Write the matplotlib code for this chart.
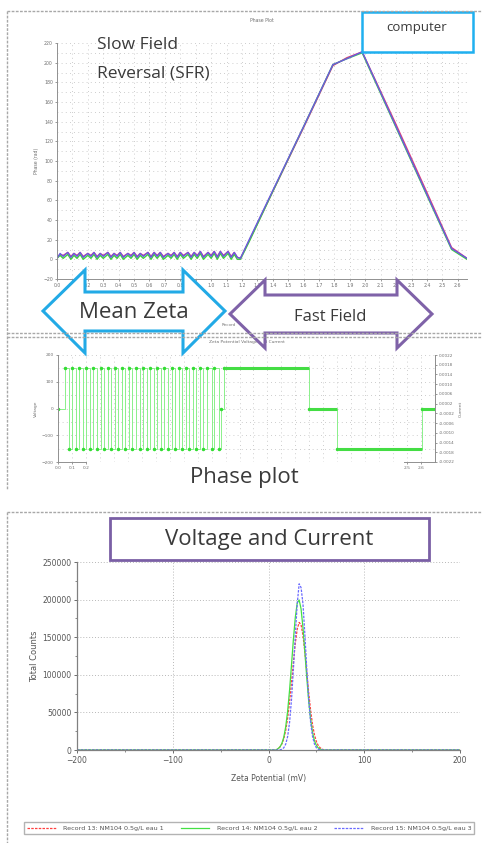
import matplotlib
matplotlib.use("Agg")
import matplotlib.pyplot as plt
from matplotlib.patches import Polygon, Rectangle
import numpy as np

# ---------------- data ----------------
phase_time = [0.00, 0.02, 0.04, 0.07, 0.09, 0.11, 0.13, 0.15, 0.17, 0.20,
              0.22, 0.24, 0.26, 0.28, 0.30, 0.33, 0.35, 0.37, 0.39, 0.41,
              0.43, 0.46, 0.48, 0.50, 0.52, 0.54, 0.56, 0.59, 0.61, 0.63,
              0.65, 0.67, 0.69, 0.72, 0.74, 0.76, 0.78, 0.80, 0.82, 0.85,
              0.87, 0.89, 0.91, 0.93, 0.95, 0.98, 1.00, 1.02, 1.04, 1.06,
              1.08, 1.11, 1.13, 1.15, 1.17,
              1.19, 1.25, 1.40, 1.60, 1.79, 1.88, 1.98, 2.20, 2.40, 2.56, 2.66]
phase_blue = [1, 6, 3, 7, 2, 6, 3, 7, 2, 6,
              3, 7, 2, 6, 3, 7, 2, 6, 3, 7,
              2, 6, 3, 7, 2, 6, 3, 7, 2, 7,
              3, 7, 2, 6, 3, 7, 2, 7, 3, 7,
              2, 7, 3, 8, 2, 7, 3, 8, 2, 8,
              3, 8, 2, 7, 2,
              1, 21, 70, 135, 198, 204, 211, 135, 66, 11, 1]
phase_red = [2, 5, 4, 7, 3, 6, 4, 7, 3, 6,
             4, 7, 3, 6, 4, 7, 3, 6, 4, 7,
             3, 6, 4, 7, 3, 6, 4, 7, 3, 7,
             4, 7, 3, 6, 4, 7, 3, 7, 4, 7,
             3, 7, 4, 8, 3, 7, 4, 8, 3, 8,
             4, 8, 3, 7, 2,
             1, 20, 69, 134, 197, 205, 211, 137, 68, 12, 1]
phase_green = [1, 4, 1, 5, 0, 4, 1, 5, 0, 4,
               1, 5, 0, 4, 1, 5, 0, 4, 1, 5,
               0, 4, 1, 5, 0, 4, 1, 5, 0, 5,
               1, 5, 0, 4, 1, 5, 0, 5, 1, 5,
               0, 5, 1, 6, 0, 5, 1, 6, 0, 6,
               1, 6, 0, 5, 0,
               0, 19, 69, 135, 198, 204, 210, 134, 65, 10, 0]

volt_time = [0.00, 0.05, 0.08, 0.10, 0.13, 0.15, 0.18, 0.20, 0.23, 0.25, 0.28,
             0.31, 0.33, 0.36, 0.38, 0.41, 0.43, 0.46, 0.48, 0.51, 0.53,
             0.56, 0.59, 0.61, 0.64, 0.66, 0.69, 0.71, 0.74, 0.76, 0.79,
             0.82, 0.84, 0.87, 0.89, 0.92, 0.94, 0.97, 0.99, 1.02, 1.04,
             1.07, 1.10, 1.12, 1.15, 1.17, 1.19, 1.80, 2.00, 2.61, 2.70]
volt_val = [0,
            150, -150, 150, -150, 150, -150, 150, -150, 150, -150,
            150, -150, 150, -150, 150, -150, 150, -150, 150, -150,
            150, -150, 150, -150, 150, -150, 150, -150, 150, -150,
            150, -150, 150, -150, 150, -150, 150, -150, 150, -150,
            150, -150, 150, -150,
            0, 150, 0, -150, 0, 0]

zeta_mv = [-200, 8, 10, 12, 14, 16, 18, 20, 22, 24, 26, 28, 30, 32, 34,
           36, 38, 40, 42, 44, 46, 48, 50, 52, 54, 56, 58, 200]
counts_rec13 = [0, 0, 1900, 4100, 8100, 15100, 26200, 42400, 63800, 89500, 116800,
                142000, 160800, 169600, 166600, 152500, 129900, 103100, 76200,
                52500, 33600, 20100, 11200, 5800, 2800, 1300, 0, 0]
counts_rec14 = [0, 0, 1800, 4100, 8800, 17200, 31100, 51800, 79600, 112700, 146900,
                176500, 195500, 199500, 187700, 162700, 129900, 95700, 64900,
                40600, 23400, 12400, 6100, 2700, 1100, 400, 0, 0]
counts_rec15 = [0, 0, 100, 300, 1000, 3000, 7900, 18000, 36700, 66600, 107200,
                153100, 194300, 221000, 216000, 194300, 153100, 107200, 66600,
                36700, 18000, 7900, 3000, 1000, 300, 100, 0, 0]
record_labels = ["Record 13: NM104 0.5g/L eau 1",
                 "Record 14: NM104 0.5g/L eau 2",
                 "Record 15: NM104 0.5g/L eau 3"]

W, H = 482, 843
fig = plt.figure(figsize=(W / 100, H / 100), dpi=100)
fig.patch.set_facecolor("white")


def rect(x0, y0, x1, y1):
    return [x0 / W, 1 - y1 / H, (x1 - x0) / W, (y1 - y0) / H]


tick_col = "#707070"
grid_kw = dict(color="#bdbdbd", linestyle=(0, (1, 4)), linewidth=0.6)

# ---------------- top: phase plot ----------------
ax1 = fig.add_axes(rect(57, 43, 467, 279))
ax1.plot(phase_time, phase_red, color="#e0407a", lw=1.0)
ax1.plot(phase_time, phase_green, color="#3fcf3f", lw=1.0)
ax1.plot(phase_time, phase_blue, color="#6a5ae0", lw=1.0)
ax1.set_xlim(0, 2.66)
ax1.set_ylim(-20, 220)
ax1.set_xticks(np.round(np.arange(0, 2.65, 0.1), 1))
ax1.set_xticklabels([f"{v:.1f}" for v in np.arange(0, 2.65, 0.1)])
ax1.set_yticks(np.arange(-20, 221, 20))
ax1.set_yticks(np.arange(-10, 221, 20), minor=True)
ax1.tick_params(labelsize=3.3, colors=tick_col, length=1.5, width=0.5, pad=1.5)
ax1.tick_params(which="minor", length=0)
ax1.grid(True, which="both", **grid_kw)
for s in ("top", "right"):
    ax1.spines[s].set_visible(False)
for s in ("left", "bottom"):
    ax1.spines[s].set_color("#909090")
    ax1.spines[s].set_linewidth(0.7)
ax1.set_ylabel("Phase (rad)", fontsize=3.3, color=tick_col, labelpad=3)
ax1.set_title("Phase Plot", fontsize=3.3, color=tick_col, pad=15)

# ---------------- middle: voltage / current ----------------
ax2 = fig.add_axes(rect(58, 355, 435, 462))
ax2.plot(volt_time, volt_val, drawstyle="steps-post", color="#8af08a", lw=0.7,
         marker=".", ms=3, mfc="#33dd33", mec="#33dd33")
n = len(volt_time)
for i in range(n - 5, n - 1):
    ax2.hlines(volt_val[i], volt_time[i], volt_time[i + 1], color="#44dd44", lw=2.2)
ax2.set_xlim(0, 2.70)
ax2.set_ylim(-200, 200)
ax2.set_yticks([-200, -100, 0, 100, 200])
ax2.set_xticks([0.0, 0.1, 0.2, 2.5, 2.6])
ax2.set_xticklabels(["0.0", "0.1", "0.2", "2.5", "2.6"])
ax2.set_xticks(np.arange(0.1, 2.7, 0.1), minor=True)
ax2.set_yticks(np.arange(-150, 200, 50), minor=True)
ax2.tick_params(labelsize=3.2, colors=tick_col, length=1.5, width=0.5, pad=1.5)
ax2.tick_params(which="minor", length=0)
ax2.grid(True, which="both", **grid_kw)
ax2.spines["top"].set_visible(False)
ax2.spines["bottom"].set_bounds(0, 0.2)
for s in ("left", "bottom", "right"):
    ax2.spines[s].set_color("#909090")
    ax2.spines[s].set_linewidth(0.7)
ax2.axhline(-200, xmin=2.48 / 2.70, xmax=1.0, color="#909090", lw=0.7, clip_on=False)
ax2.set_ylabel("Voltage", fontsize=3.2, color=tick_col, labelpad=3)
ax2.set_title("Zeta Potential Voltage and Current", fontsize=3.2, color=tick_col,
              pad=9)
ax2r = ax2.twinx()
ax2r.set_ylim(-0.0022, 0.0022)
cur_ticks = [-0.0022, -0.0018, -0.0014, -0.0010, -0.0006, -0.0002,
             0.0002, 0.0006, 0.0010, 0.0014, 0.0018, 0.0022]
ax2r.set_yticks(cur_ticks)
ax2r.set_yticklabels([f"{v:.4f}" for v in cur_ticks])
ax2r.tick_params(labelsize=3.0, colors=tick_col, length=1.5, width=0.5, pad=1.5)
for s in ("top", "left", "bottom"):
    ax2r.spines[s].set_visible(False)
ax2r.spines["right"].set_color("#909090")
ax2r.spines["right"].set_linewidth(0.7)
ax2r.set_ylabel("Current", fontsize=3.2, color=tick_col, labelpad=3)

# ---------------- bottom: zeta distribution ----------------
ax3 = fig.add_axes(rect(77, 562, 460, 750))
l1, = ax3.plot(zeta_mv, counts_rec13, color="#ff4040", lw=0.9, ls=(0, (2, 1)))
l2, = ax3.plot(zeta_mv, counts_rec14, color="#44e044", lw=0.9)
l3, = ax3.plot(zeta_mv, counts_rec15, color="#6a6aff", lw=0.9, ls=(0, (2, 1)))
ax3.set_xlim(-200, 200)
ax3.set_ylim(0, 250000)
ax3.set_xticks([-200, -100, 0, 100, 200])
ax3.set_yticks([0, 50000, 100000, 150000, 200000, 250000])
ax3.set_xticks([-150, -50, 50, 150], minor=True)
ax3.set_yticks([25000, 75000, 125000, 175000, 225000], minor=True)
ax3.tick_params(labelsize=5.5, colors="#555555", length=2, width=0.6, pad=2)
ax3.tick_params(which="minor", length=1.5, width=0.6, colors="#777777")
ax3.grid(True, which="major", color="#b8b8b8", linestyle=(0, (1, 2)), linewidth=0.7)
for s in ("top", "right"):
    ax3.spines[s].set_visible(False)
for s in ("left", "bottom"):
    ax3.spines[s].set_color("#808080")
    ax3.spines[s].set_linewidth(0.9)
ax3.set_xlabel("Zeta Potential (mV)", fontsize=5.5, color="#555555", labelpad=7)
ax3.set_ylabel("Total Counts", fontsize=6, color="#555555", labelpad=2)

leg = fig.legend([l1, l2, l3], record_labels, loc="center",
                 bbox_to_anchor=(249 / W, 1 - 828 / H), ncol=3, fontsize=4.6,
                 frameon=True, fancybox=False, edgecolor="#a0a0a0",
                 handlelength=4.5, columnspacing=2.6, handletextpad=1.2,
                 borderpad=0.5)
leg.get_frame().set_linewidth(1.0)
for t in leg.get_texts():
    t.set_color("#555555")

# ---------------- overlay annotations ----------------
ov = fig.add_axes([0, 0, 1, 1], zorder=10)
ov.set_xlim(0, W)
ov.set_ylim(H, 0)
ov.axis("off")
ov.patch.set_alpha(0)

border = dict(color="#a8a8a8", lw=1.0, ls=(0, (2, 1)))
ov.plot([7, 482], [11, 11], **border)
ov.plot([7, 7], [11, 490], **border)
ov.plot([7, 482], [333, 333], **border)
ov.plot([7, 482], [337, 337], **border)
ov.plot([7, 482], [512, 512], **border)
ov.plot([7, 7], [512, 843], **border)

ov.text(229, 325, "Record", fontsize=3, color="#777777", ha="center", va="center")


def dbl_arrow(x0, x1, yc, hw, ytop, ybot, stop, sbot, color):
    pts = [(x0, yc), (x0 + hw, ytop), (x0 + hw, stop), (x1 - hw, stop),
           (x1 - hw, ytop), (x1, yc), (x1 - hw, ybot), (x1 - hw, sbot),
           (x0 + hw, sbot), (x0 + hw, ybot)]
    ov.add_patch(Polygon(pts, closed=True, facecolor="white", edgecolor=color,
                         lw=2.2, joinstyle="miter"))


dbl_arrow(43, 225, 311, 42, 270, 353, 292, 331, "#22aae6")
dbl_arrow(230, 432, 314, 35, 280, 348, 295, 333, "#7f62a8")

txt_font = ["Open Sans", "DejaVu Sans"]
txt_col = "#3a3a3a"
ov.text(134, 313, "Mean Zeta", fontsize=16, family=txt_font, color=txt_col,
        ha="center", va="center")
ov.text(330, 317, "Fast Field", fontsize=12, family=txt_font, color=txt_col,
        ha="center", va="center")
ov.text(97, 45, "Slow Field", fontsize=12.5, family=txt_font, color=txt_col,
        ha="left", va="center")
ov.text(97, 73, "Reversal (SFR)", fontsize=12.5, family=txt_font, color=txt_col,
        ha="left", va="center")

ov.add_patch(Rectangle((362, 12), 111, 40, facecolor="white", edgecolor="#1fb0f0", lw=1.8))
ov.text(417, 28, "computer", fontsize=9.5, family=txt_font, color=txt_col,
        ha="center", va="center")

ov.text(244, 477, "Phase plot", fontsize=16, family=txt_font, color=txt_col,
        ha="center", va="center")

ov.add_patch(Rectangle((110, 518), 319, 42, facecolor="white", edgecolor="#7a5fa5", lw=2.0))
ov.text(269, 540, "Voltage and Current", fontsize=16, family=txt_font, color=txt_col,
        ha="center", va="center")

fig.savefig("out.png", dpi=100)
